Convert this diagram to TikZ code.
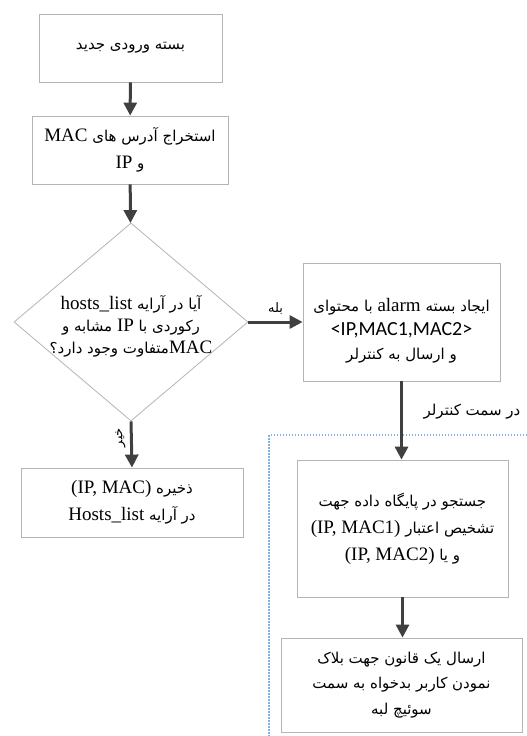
\documentclass[tikz,border=0pt]{standalone}
\usepackage{fontspec}
\setmainfont{Liberation Serif}
\newfontfamily\arabicfont[Script=Arabic]{DejaVu Sans}
\newfontfamily\calibrifont{Carlito}
\TeXXeTstate=1
\usetikzlibrary{arrows.meta,shapes.geometric,positioning}

\definecolor{boxgray}{HTML}{B4B4B4}
\definecolor{arrowgray}{HTML}{404040}
\definecolor{ctrlblue}{HTML}{7FB2E5}

\newcommand\fa[1]{{\arabicfont\beginR #1\endR}}
\newcommand\en[1]{\beginL{\rmfamily\fontsize{19}{27}\selectfont #1}\endL}

\tikzset{
  stepbox/.style={draw=boxgray, line width=0.8pt, fill=white, align=center,
    font=\arabicfont\fontsize{15}{27}\selectfont, inner sep=0pt},
  decision/.style={diamond, draw=boxgray, line width=0.8pt, inner sep=0pt,
    minimum width=234pt, minimum height=198pt},
  flow/.style={draw=arrowgray, line width=3pt,
    -{Triangle[length=13pt,width=13pt]}},
  small/.style={font=\arabicfont\fontsize{13}{15}\selectfont},
}

\begin{document}
\begin{tikzpicture}[x=1pt,y=-1pt]

    % CANVAS
    \useasboundingbox (0,0) rectangle (527,736);

    % LEFT COLUMN
    \node[stepbox, minimum width=183pt, minimum height=68pt] (start) at (130.5,48)
        {\fa{بسته ورودی جدید}};
    \node[stepbox, minimum width=196pt, minimum height=68pt] (extract) at (130,150)
        {\fa{استخراج آدرس های \en{MAC}}\\\fa{و \en{IP}}};
    \node[decision] (check) at (131,322) {};
    \node[align=center, font=\arabicfont\fontsize{15}{22}\selectfont] (checktext) at (131,326)
        {\fa{آیا در آرایه \en{hosts\_list}}\\\fa{رکوردی با \en{IP} مشابه و}\\\fa{\en{MAC}متفاوت وجود دارد؟}};
    \node[stepbox, minimum width=222pt, minimum height=69pt] (save) at (132,502.5)
        {\fa{ذخیره \en{(IP, MAC)}}\\\fa{در آرایه \en{Hosts\_list}}};

    % RIGHT COLUMN
    \node[stepbox, minimum width=197pt, minimum height=118pt] (alarm) at (401.5,322) {};
    \node[align=center, font=\arabicfont\fontsize{15}{24}\selectfont] (alarmtext) at (401.5,331)
        {\fa{ایجاد بسته \en{alarm} با محتوای}\\
         \beginL{\calibrifont\fontsize{20}{24}\selectfont <IP,MAC1,MAC2>}\endL\\
         \fa{و ارسال به کنترلر}};
    \node[stepbox, minimum width=211pt, minimum height=137pt] (search) at (402.5,528.5)
        {\fa{جستجو در پایگاه داده جهت}\\\fa{تشخیص اعتبار \en{(IP, MAC1)}}\\\fa{و یا \en{(IP, MAC2)}}};
    \node[stepbox, minimum width=241pt, minimum height=94pt,
          font=\arabicfont\fontsize{15}{25.5}\selectfont] (block) at (401.5,685)
        {\fa{ارسال یک قانون جهت بلاک}\\\fa{نمودن کاربر بدخواه به سمت}\\\fa{سوئیچ لبه}};

    % CONTROLLER AREA
    \coordinate (ctrlne) at (527,435);
    \coordinate (ctrlnw) at (269,435);
    \coordinate (ctrlsw) at (269,736);
    \draw[ctrlblue, line width=1.2pt, dash pattern=on 1.5pt off 1.5pt] (ctrlne) -- (ctrlnw) -- (ctrlsw);
    \node[font=\arabicfont\fontsize{15}{17}\selectfont] (ctrllabel) at (472,412)
        {\fa{در سمت کنترلر}};

    % ARROWS
    \draw[flow] (start) -- (extract);
    \draw[flow] (extract) -- (check);
    \draw[flow] (check.east) -- (check.east -| alarm.west)
        node[midway, above=3pt, small] (yes) {\fa{بله}};
    \draw[flow] (check.south) -- (save.north)
        node[pos=0.35, left=1pt, rotate=90, anchor=south, small] (no) {\fa{خیر}};
    \draw[flow] (alarm.south) -- (alarm.south |- search.north);
    \draw[flow] (search.south) -- (search.south |- block.north);

\end{tikzpicture}
\end{document}
